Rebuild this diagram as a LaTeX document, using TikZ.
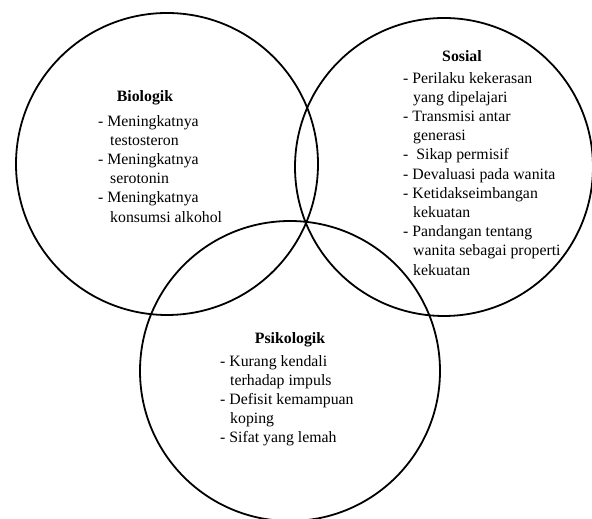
\documentclass[tikz,border=0pt]{standalone}
\usepackage{fontspec}
\setmainfont{Liberation Serif}
\begin{document}
\begin{tikzpicture}[x=1pt,y=1pt,
  ring/.style={draw=black,line width=1.8pt},
  ttl/.style={font=\fontsize{15.8}{19}\selectfont\bfseries,inner sep=0pt,anchor=base},
  lst/.style={font=\fontsize{15.8}{19.2}\selectfont,inner sep=0pt,align=left,anchor=north west}]
\useasboundingbox (0,0) rectangle (592,519);
\draw[ring] (167,355) circle[radius=151pt];
\draw[ring] (444,352) circle[radius=149pt];
\draw[ring] (290,148) circle[radius=150pt];
\node[ttl] (bt) at (145,417) {Biologik};
\node[lst] (bl) at (98,404) {- Meningkatnya\\\hspace*{12pt}testosteron\\- Meningkatnya\\\hspace*{12pt}serotonin\\- Meningkatnya\\\hspace*{12pt}konsumsi alkohol};
\node[ttl] (st) at (462,457) {Sosial};
\node[lst] (sl) at (403,447) {- Perilaku kekerasan\\\hspace*{10pt}yang dipelajari\\- Transmisi antar\\\hspace*{10pt}generasi\\-\ \ Sikap permisif\\- Devaluasi pada wanita\\- Ketidakseimbangan\\\hspace*{10pt}kekuatan\\- Pandangan tentang\\\hspace*{10pt}wanita sebagai properti\\\hspace*{10pt}kekuatan};
\node[ttl] (pt) at (290,175) {Psikologik};
\node[lst] (pl) at (220,164) {- Kurang kendali\\\hspace*{10pt}terhadap impuls\\- Defisit kemampuan\\\hspace*{10pt}koping\\- Sifat yang lemah};
\end{tikzpicture}
\end{document}
